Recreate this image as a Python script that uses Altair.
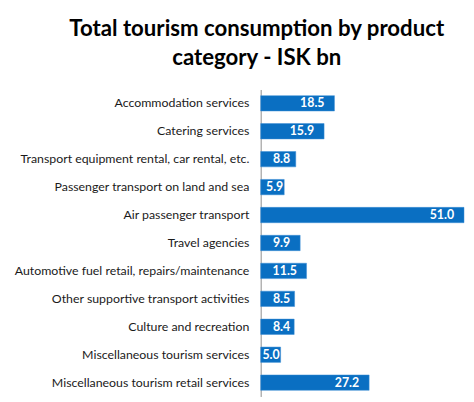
import altair as alt
import pandas as pd

categories = [
    "Accommodation services",
    "Catering services",
    "Transport equipment rental, car rental, etc.",
    "Passenger transport on land and sea",
    "Air passenger transport",
    "Travel agencies",
    "Automotive fuel retail, repairs/maintenance",
    "Other supportive transport activities",
    "Culture and recreation",
    "Miscellaneous tourism services",
    "Miscellaneous tourism retail services",
]
values = [18.5, 15.9, 8.8, 5.9, 51.0, 9.9, 11.5, 8.5, 8.4, 5.0, 27.2]
title_lines = ["Total tourism consumption by product", "category - ISK bn"]

df = pd.DataFrame({"category": categories, "value": values})
df["label"] = [f"{v:.1f}" for v in values]

BLUE = "#0A6FC2"
XMAX = 51.5

base = alt.Chart(df).encode(
    y=alt.Y(
        "category:N",
        sort=categories,
        title=None,
        scale=alt.Scale(paddingInner=0.45, paddingOuter=0.22),
        axis=alt.Axis(
            ticks=False,
            labelPadding=12,
            labelFont="Lato",
            labelFontSize=12.5,
            labelColor="#1a1a1a",
            domainColor="#8c8c8c",
            domainWidth=1,
            labelLimit=300,
        ),
    )
)

bars = base.mark_bar(color=BLUE, stroke="#3d8fd6", strokeWidth=0.5).encode(
    x=alt.X(
        "value:Q",
        title=None,
        scale=alt.Scale(domain=[0, XMAX], nice=False),
        axis=None,
    )
)

labels = (
    base.transform_calculate(
        w="length(datum.label) == 3 ? 4.2 : 5.9",
        lx="min(max(3.2 + datum.w, datum.value - 2.5), datum.value - 0.25)",
    )
    .mark_text(
        align="right",
        baseline="middle",
        color="white",
        font="Lato",
        fontWeight="bold",
        fontSize=12.5,
    )
    .encode(x=alt.X("lx:Q", scale=alt.Scale(domain=[0, XMAX], nice=False), axis=None), text="label:N")
)

chart = (
    alt.layer(bars, labels)
    .properties(
        width=208,
        height=311,
        autosize=alt.AutoSizeParams(type="none"),
        padding={"left": 256, "top": 80, "right": 0, "bottom": 0},
        title=alt.TitleParams(
            text=title_lines,
            font="Lato",
            fontSize=22.5,
            fontWeight="bold",
            color="#000000",
            anchor="middle",
            frame="group",
            dx=-108,
            offset=20,
            lineHeight=30,
        ),
    )
    .configure_view(stroke=None)
    .configure_axis(grid=False)
)

chart.save("out.html", embed_options={"renderer": "svg", "actions": False})
